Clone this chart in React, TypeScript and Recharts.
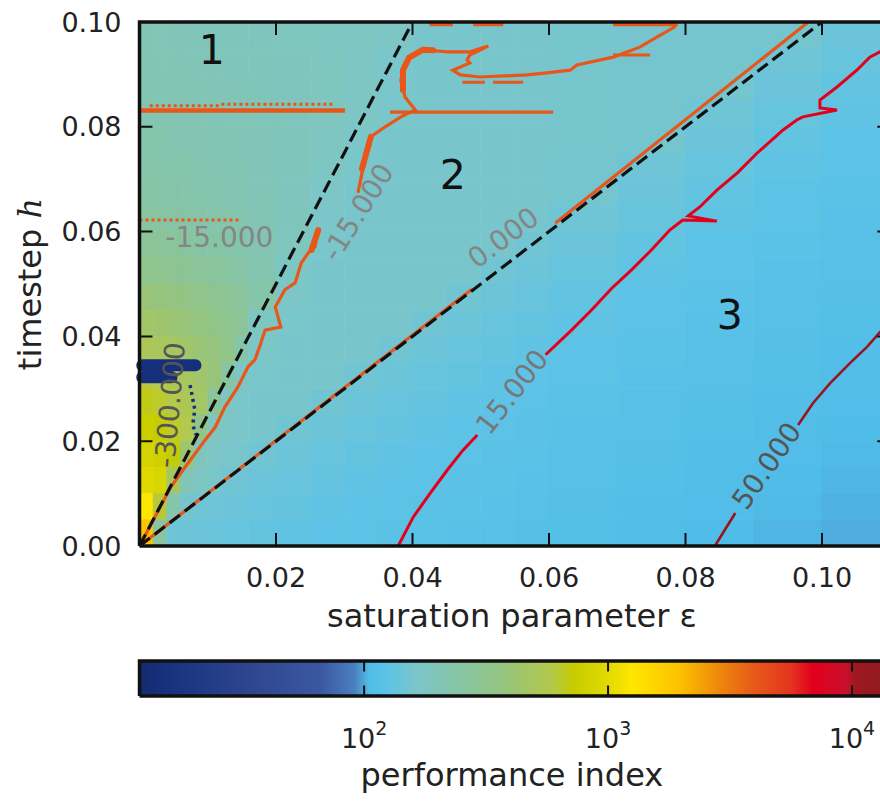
import React from 'react';
import { ComposedChart, Line, Scatter, XAxis, YAxis, ReferenceArea, Label } from 'recharts';

// axis ticks
const EPS_TICKS = [0.02, 0.04, 0.06, 0.08, 0.1];
const H_TICKS = [0, 0.02, 0.04, 0.06, 0.08, 0.1];
const PI_TICKS = [100, 1000, 10000];
const PI_MIN = 12;
const PI_MAX = 14350;

// heat map grid: cell edges in epsilon (left->right) and h (top->bottom)
const EPS_EDGES = [0, 0.002, 0.004, 0.006, 0.008, 0.01, 0.012, 0.014, 0.016, 0.02, 0.025, 0.03, 0.035, 0.04, 0.045, 0.05, 0.055, 0.06, 0.07, 0.08, 0.09, 0.1, 0.11];
const H_EDGES = [0.1, 0.095, 0.09, 0.085, 0.08, 0.075, 0.07, 0.065, 0.06, 0.055, 0.05, 0.045, 0.04, 0.035, 0.03, 0.025, 0.02, 0.015, 0.01, 0.005, 0];

// performance index, one row per h band (top first)
const PI_GRID = [
  [200, 200, 198, 196, 195, 194, 192, 190, 188, 185, 182, 178, 172, 160, 160, 160, 160, 158, 157, 156, 155, 142],
  [205, 204, 202, 200, 198, 196, 194, 192, 190, 186, 182, 176, 162, 160, 160, 160, 160, 158, 157, 156, 147, 137],
  [210, 208, 206, 204, 202, 200, 198, 196, 193, 188, 183, 175, 163, 160, 160, 160, 160, 158, 157, 155, 142, 132],
  [215, 213, 210, 207, 205, 202, 200, 198, 195, 190, 184, 176, 162, 160, 160, 160, 160, 158, 157, 147, 137, 128],
  [222, 220, 216, 212, 209, 206, 203, 200, 196, 190, 182, 165, 160, 160, 160, 160, 160, 158, 156, 142, 132, 125],
  [230, 228, 224, 220, 216, 212, 208, 204, 198, 190, 180, 163, 160, 160, 160, 160, 160, 157, 147, 137, 128, 122],
  [240, 237, 233, 228, 223, 218, 213, 208, 200, 188, 168, 160, 160, 160, 160, 160, 160, 155, 142, 132, 125, 120],
  [258, 252, 246, 240, 234, 228, 222, 215, 205, 190, 165, 160, 160, 160, 160, 160, 158, 147, 137, 128, 122, 118],
  [285, 278, 270, 260, 250, 242, 233, 224, 210, 185, 162, 160, 160, 160, 160, 160, 150, 142, 132, 125, 120, 116],
  [320, 312, 302, 290, 278, 265, 252, 240, 218, 170, 160, 160, 160, 160, 160, 150, 143, 137, 128, 122, 118, 114],
  [390, 378, 362, 345, 328, 310, 290, 268, 230, 168, 160, 160, 160, 160, 150, 143, 138, 132, 125, 120, 116, 112],
  [450, 432, 410, 388, 362, 336, 308, 280, 178, 162, 160, 160, 160, 150, 143, 138, 133, 128, 122, 118, 114, 111],
  [520, 498, 470, 440, 405, 370, 330, 230, 170, 160, 160, 160, 150, 143, 138, 133, 129, 125, 120, 116, 112, 109],
  [600, 570, 530, 490, 440, 390, 255, 172, 162, 160, 160, 150, 143, 138, 133, 129, 126, 122, 118, 114, 111, 108],
  [680, 640, 590, 530, 460, 280, 178, 165, 160, 160, 150, 143, 138, 133, 129, 126, 123, 120, 116, 112, 109, 106],
  [770, 720, 650, 570, 330, 185, 170, 162, 160, 150, 143, 138, 133, 129, 126, 123, 121, 118, 114, 111, 108, 105],
  [870, 800, 700, 420, 190, 172, 163, 160, 150, 143, 138, 133, 129, 126, 123, 121, 119, 116, 112, 109, 106, 104],
  [980, 900, 480, 205, 175, 162, 150, 147, 143, 138, 133, 129, 126, 123, 121, 119, 117, 114, 111, 108, 105, 103],
  [1250, 620, 225, 155, 148, 145, 143, 141, 138, 133, 129, 126, 123, 121, 119, 117, 115, 112, 109, 106, 104, 102],
  [1850, 260, 146, 144, 142, 140, 138, 136, 133, 129, 126, 123, 121, 119, 117, 115, 113, 111, 108, 105, 103, 101],
];

// contours as [eps, h] points, null = gap
const CONTOUR_M15 = [
  [0, 0], [0.0046, 0.0113], [0.0071, 0.0158], [0.0096, 0.0202], [0.0111, 0.0227], [0.0125, 0.0265], [0.0144, 0.0303],
  [0.0159, 0.0342], [0.0169, 0.0355], [0.0177, 0.0384], [0.0184, 0.0412], [0.0207, 0.0418], [0.0199, 0.0456],
  [0.0213, 0.0489], [0.0228, 0.0502], [0.0237, 0.054], [0.0247, 0.0559], [0.0257, 0.0571], [0.0262, 0.0603],
  null,
  [0.032, 0.0674], [0.033, 0.0737], [0.0335, 0.0762], [0.0339, 0.0781], [0.036, 0.08], [0.0383, 0.0819], [0.0404, 0.0832],
  [0.0389, 0.0857], [0.0383, 0.0889], [0.0386, 0.0908], [0.0389, 0.0922], [0.0404, 0.0941], [0.0415, 0.0947],
  [0.0451, 0.0943], [0.0484, 0.0943], [0.0511, 0.0954], [0.0484, 0.0937], [0.048, 0.0928], [0.0484, 0.0922],
  [0.0459, 0.0908], [0.047, 0.0899], [0.0499, 0.0895], [0.0568, 0.0899], [0.0597, 0.0903], [0.0631, 0.0908],
  [0.0641, 0.0918], [0.0694, 0.0933], [0.0733, 0.0952], [0.0758, 0.0971], [0.0782, 0.0989], [0.0788, 0.0996],
  null,
  [0.0367, 0.0828], [0.0606, 0.0828],
  null,
  [0.0473, 0.0885], [0.0506, 0.0885], null, [0.0518, 0.0885], [0.0562, 0.0885],
  null,
  [0.0694, 0.0937], [0.0748, 0.0937],
  null,
  [0.0425, 0.0995], [0.0459, 0.0995], null, [0.0489, 0.0995], [0.0533, 0.0995], null, [0.0694, 0.0995], [0.0788, 0.0995],
];
const CONTOUR_M15_NOISY = [
  [0.0252, 0.0565], [0.0262, 0.0603], null,
  [0.0326, 0.072], [0.0339, 0.0781], null,
  [0.0386, 0.087], [0.0386, 0.0908], [0.0395, 0.0932], [0.0415, 0.0947], [0.043, 0.0946],
];
const BAND_MAIN = [[0, 0.0831], [0.0301, 0.0831]];
const BAND_NOISE = [
  [0.0015, 0.084], [0.012, 0.084], null, [0.012, 0.0843], [0.0285, 0.0843], null, [0, 0.0622], [0.0147, 0.0622],
];
const CONTOUR_0 = [[0, 0], [0.0487, 0.049], null, [0.0609, 0.0616], [0.098, 0.1]];
const CONTOUR_15 = [
  [0.0379, 0], [0.0401, 0.0055], [0.0426, 0.0101], [0.0451, 0.0145], [0.0474, 0.0183], [0.0495, 0.0212],
  null,
  [0.0595, 0.0365], [0.0633, 0.0412], [0.0662, 0.045], [0.0692, 0.0492], [0.0721, 0.0527], [0.075, 0.0565],
  [0.0777, 0.0603], [0.0796, 0.0622], [0.0846, 0.062], [0.0804, 0.063], [0.0821, 0.0647], [0.0846, 0.0679],
  [0.0876, 0.0712], [0.0905, 0.075], [0.0943, 0.0794], [0.0963, 0.0813], [0.0972, 0.0819], [0.1022, 0.0832],
  [0.0997, 0.0836], [0.0997, 0.0851], [0.1022, 0.0876], [0.1051, 0.0908], [0.107, 0.0933], [0.1085, 0.0943], [0.11, 0.0966],
];
const CONTOUR_50 = [
  [0.0843, 0], [0.0873, 0.0063], null,
  [0.0965, 0.0231], [0.0987, 0.0273], [0.1012, 0.0311], [0.1041, 0.0349], [0.1066, 0.038], [0.1085, 0.0408], [0.11, 0.0428],
];
const CONTOUR_M300_CORE = [[0.0004, 0.0345], [0.0082, 0.0345], null, [0.0004, 0.0322], [0.0047, 0.0322]];
const CONTOUR_M300_TAIL = [[0.0074, 0.0307], [0.0077, 0.0288], [0.0081, 0.026], [0.0078, 0.0231], [0.0083, 0.0212]];
const BOUNDARY_1 = [[0, 0], [0.04, 0.1]];
const BOUNDARY_2 = [[0, 0], [0.1, 0.1]];

const CONTOUR_LABELS = [
  { x: 0.0117, y: 0.0588, text: '-15.000', angle: 0, color: '#858585' },
  { x: 0.032, y: 0.0637, text: '-15.000', angle: -58, color: '#858585' },
  { x: 0.0533, y: 0.0588, text: '0.000', angle: -37, color: '#858585' },
  { x: 0.0546, y: 0.0294, text: '15.000', angle: -52, color: '#777777' },
  { x: 0.0919, y: 0.0153, text: '50.000', angle: -55, color: '#555555' },
  { x: 0.0045, y: 0.0269, text: '-300.000', angle: -85, color: '#555555' },
];
const REGION_LABELS = [
  { x: 0.0106, y: 0.0947, text: '1' },
  { x: 0.0459, y: 0.0708, text: '2' },
  { x: 0.0865, y: 0.0441, text: '3' },
];

// colour scale (log10 of performance index -> colour)
const CMAP: [number, string][] = [
  [1.08, '#15296e'], [1.2, '#17327f'], [1.53, '#2e468e'], [1.82, '#3a58a0'], [1.96, '#4a7fbe'],
  [2.02, '#50bde8'], [2.1, '#5ec3e6'], [2.22, '#7cc6c8'], [2.41, '#88c4a0'], [2.57, '#94c47e'],
  [2.77, '#b4c84a'], [2.86, '#c6cc00'], [3.0, '#e2da00'], [3.1, '#ffe600'], [3.29, '#fcc200'],
  [3.45, '#ee8a0a'], [3.59, '#e75c18'], [3.75, '#e43420'], [3.84, '#e2001c'], [3.98, '#c8102c'],
  [4.01, '#a01820'], [4.16, '#8e1a20'],
];

const FONT = 'DejaVu Sans';
const ORANGE = '#e8561a';
const NAVY = '#162f7c';

const hexToRgb = (h: string) => {
  const n = parseInt(h.slice(1), 16);
  return [(n >> 16) & 255, (n >> 8) & 255, n & 255];
};

const piColor = (v: number) => {
  const l = Math.log10(v);
  let i = 0;
  while (i < CMAP.length - 2 && l > CMAP[i + 1][0]) i++;
  const [l0, c0] = CMAP[i];
  const [l1, c1] = CMAP[i + 1];
  const t = Math.max(0, Math.min(1, (l - l0) / (l1 - l0)));
  const a = hexToRgb(c0);
  const b = hexToRgb(c1);
  return `rgb(${a.map((x, k) => Math.round(x + (b[k] - x) * t)).join(',')})`;
};

const pts = (arr: (number[] | null)[]) =>
  arr.map((p) => (p ? { x: p[0], y: p[1] } : { x: null, y: null }));

const frame = (x0: number, x1: number, y0: number, y1: number) =>
  pts([[x0, y0], [x0, y1], [x1, y1], [x1, y0], [x0, y0]]);

// inward tick marks on all four sides
const tickMarks: { x: number | null; y: number | null }[] = [];
EPS_TICKS.forEach((v) => {
  tickMarks.push({ x: v, y: 0 }, { x: v, y: 0.0025 }, { x: null, y: null });
  tickMarks.push({ x: v, y: 0.1 }, { x: v, y: 0.0975 }, { x: null, y: null });
});
H_TICKS.filter((v) => v > 0 && v < 0.1).forEach((v) => {
  tickMarks.push({ x: 0, y: v }, { x: 0.0019, y: v }, { x: null, y: null });
  tickMarks.push({ x: 0.11, y: v }, { x: 0.1081, y: v }, { x: null, y: null });
});

const cbarTicks: { x: number | null; y: number | null }[] = [];
PI_TICKS.forEach((v) => {
  cbarTicks.push({ x: v, y: 0 }, { x: v, y: 0.3 }, { x: null, y: null });
  cbarTicks.push({ x: v, y: 1 }, { x: v, y: 0.7 }, { x: null, y: null });
});

const XTick = ({ x, y, payload }: any) => (
  <text x={x} y={y + 41} textAnchor="middle" fontSize={27} fontFamily={FONT} fill="#222">
    {Number(payload.value).toFixed(2)}
  </text>
);

const YTick = ({ x, y, payload }: any) => (
  <text x={x - 18} y={y + 9.5} textAnchor="end" fontSize={27} fontFamily={FONT} fill="#222">
    {Number(payload.value).toFixed(2)}
  </text>
);

const CbarTick = ({ x, y, payload }: any) => (
  <text x={x} y={y + 52} textAnchor="middle" fontSize={27} fontFamily={FONT} fill="#222">
    <tspan>10</tspan>
    <tspan dy={-13} fontSize={19}>{Math.round(Math.log10(payload.value))}</tspan>
  </text>
);

const XTitle = ({ viewBox }: any) => (
  <text x={viewBox.x + viewBox.width / 2 - 3} y={viewBox.y + 81} textAnchor="middle" fontSize={32} fontFamily={FONT} fill="#222">
    saturation parameter ε
  </text>
);

const YTitle = ({ viewBox }: any) => {
  const cx = 33;
  const cy = viewBox.y + viewBox.height / 2;
  return (
    <text x={cx} y={cy} transform={`rotate(-90 ${cx} ${cy})`} textAnchor="middle" fontSize={32} fontFamily={FONT} fill="#222">
      <tspan>timestep </tspan>
      <tspan fontFamily="DejaVu Serif" fontStyle="italic">h</tspan>
    </text>
  );
};

const CbarTitle = ({ viewBox }: any) => (
  <text x={viewBox.x + viewBox.width / 2 - 3} y={viewBox.y + 90} textAnchor="middle" fontSize={32} fontFamily={FONT} fill="#222">
    performance index
  </text>
);

const ContourLabel = ({ cx, cy, payload }: any) => (
  <text
    x={cx}
    y={cy}
    transform={`rotate(${payload.angle} ${cx} ${cy})`}
    textAnchor="middle"
    dominantBaseline="central"
    fontSize={28}
    fontFamily={FONT}
    fill={payload.color}
  >
    {payload.text}
  </text>
);

const RegionLabel = ({ cx, cy, payload }: any) => (
  <text x={cx} y={cy} textAnchor="middle" dominantBaseline="central" fontSize={41} fontFamily={FONT} fill="#111">
    {payload.text}
  </text>
);

const seg = (key: string, data: any[], stroke: string, width: number, dash?: string, cap?: string) => (
  <Line
    key={key}
    data={data}
    dataKey="y"
    type="linear"
    stroke={stroke}
    strokeWidth={width}
    strokeDasharray={dash}
    strokeLinecap={cap as any}
    dot={false}
    activeDot={false}
    connectNulls={false}
    isAnimationActive={false}
    legendType="none"
  />
);

export default function App() {
  const logMin = Math.log10(PI_MIN);
  const logSpan = Math.log10(PI_MAX) - logMin;

  return (
    <div style={{ position: 'relative', width: 880, height: 786, overflow: 'hidden', fontFamily: FONT }}>
      <style>{'html { overflow: hidden; } body { overflow: visible; width: 880px; }'}</style>
      <div style={{ position: 'absolute', left: 0, top: 0 }}>
        <ComposedChart width={900} height={640} margin={{ top: 14, right: 17.75, bottom: 2, left: 0 }}>
          <XAxis
            type="number"
            dataKey="x"
            domain={[0, 0.11]}
            ticks={EPS_TICKS}
            interval={0}
            tick={XTick}
            tickLine={false}
            axisLine={false}
            tickSize={0}
            tickMargin={0}
            height={100}
          >
            <Label content={XTitle} />
          </XAxis>
          <YAxis
            type="number"
            dataKey="y"
            domain={[0, 0.1]}
            ticks={H_TICKS}
            interval={0}
            tick={YTick}
            tickLine={false}
            axisLine={false}
            tickSize={0}
            tickMargin={0}
            width={131.5}
          >
            <Label content={YTitle} />
          </YAxis>

          {PI_GRID.flatMap((row, r) =>
            row.map((v, c) => {
              const col = piColor(v);
              return (
                <ReferenceArea
                  key={`cell-${r}-${c}`}
                  x1={EPS_EDGES[c]}
                  x2={EPS_EDGES[c + 1]}
                  y1={H_EDGES[r + 1]}
                  y2={H_EDGES[r]}
                  fill={col}
                  fillOpacity={1}
                  stroke={col}
                  strokeWidth={0.8}
                  ifOverflow="visible"
                />
              );
            })
          )}

          {seg('band-noise', pts(BAND_NOISE), ORANGE, 3, '3 3')}
          {seg('band-main', pts(BAND_MAIN), ORANGE, 4.5)}
          {seg('m15', pts(CONTOUR_M15), ORANGE, 3.2)}
          {seg('m15-noisy', pts(CONTOUR_M15_NOISY), ORANGE, 6, undefined, 'round')}
          {seg('c0', pts(CONTOUR_0), ORANGE, 3.2)}
          {seg('c15', pts(CONTOUR_15), '#e2001a', 3)}
          {seg('c50', pts(CONTOUR_50), '#9a1420', 2.6)}
          {seg('m300-core', pts(CONTOUR_M300_CORE), NAVY, 12, undefined, 'round')}
          {seg('m300-tail', pts(CONTOUR_M300_TAIL), NAVY, 3.5, '3 4')}
          {seg('b1', pts(BOUNDARY_1), '#111', 3.2, '13 6')}
          {seg('b2', pts(BOUNDARY_2), '#111', 3.2, '13 6')}
          {seg('ticks', tickMarks, '#111', 2)}
          {seg('frame', frame(0, 0.11, 0, 0.1), '#111', 3.5)}

          <Scatter data={CONTOUR_LABELS} shape={ContourLabel} isAnimationActive={false} legendType="none" />
          <Scatter data={REGION_LABELS} shape={RegionLabel} isAnimationActive={false} legendType="none" />
        </ComposedChart>
      </div>

      <div style={{ position: 'absolute', left: 0, top: 642 }}>
        <ComposedChart width={900} height={146} margin={{ top: 11, right: 17.75, bottom: 0, left: 131.5 }}>
          <defs>
            <linearGradient id="cbarGrad" x1="0" y1="0" x2="1" y2="0">
              {CMAP.map(([l, c]) => (
                <stop key={l} offset={`${Math.max(0, Math.min(1, (l - logMin) / logSpan)) * 100}%`} stopColor={c} />
              ))}
            </linearGradient>
          </defs>
          <XAxis
            type="number"
            scale="log"
            dataKey="x"
            domain={[PI_MIN, PI_MAX]}
            ticks={PI_TICKS}
            interval={0}
            tick={CbarTick}
            tickLine={false}
            axisLine={false}
            tickSize={0}
            tickMargin={0}
            height={100}
          >
            <Label content={CbarTitle} />
          </XAxis>
          <YAxis type="number" dataKey="y" domain={[0, 1]} hide />
          <ReferenceArea
            x1={PI_MIN}
            x2={PI_MAX}
            y1={0}
            y2={1}
            fill="url(#cbarGrad)"
            fillOpacity={1}
            stroke="none"
            ifOverflow="visible"
          />
          {seg('cbar-ticks', cbarTicks, '#111', 2)}
          {seg('cbar-frame', frame(PI_MIN, PI_MAX, 0, 1), '#111', 3.5)}
        </ComposedChart>
      </div>
    </div>
  );
}
